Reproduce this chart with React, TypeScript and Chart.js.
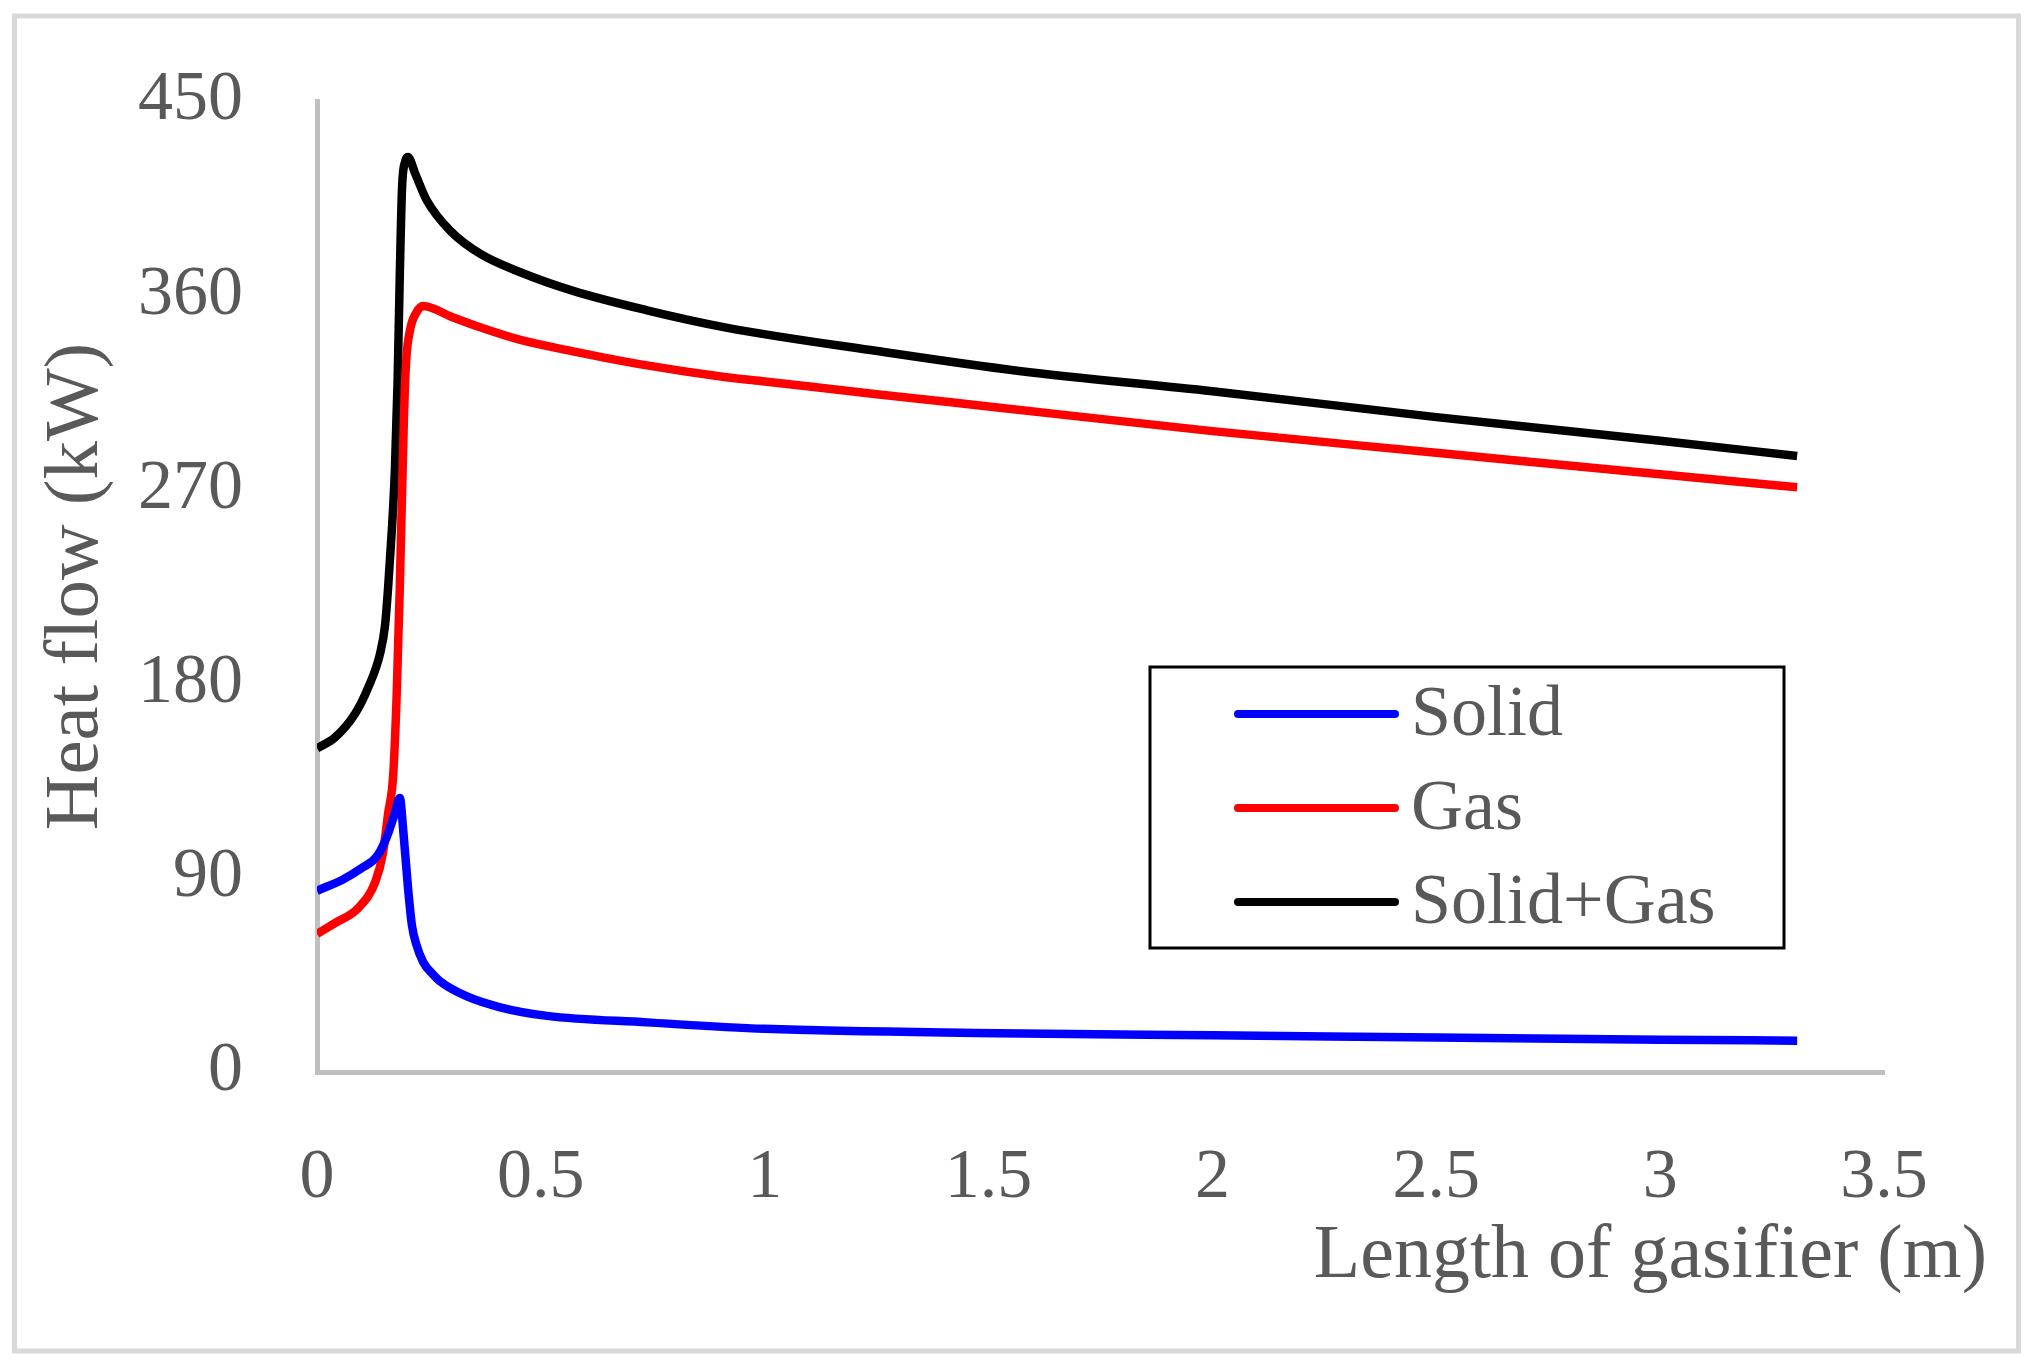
import React, { useEffect, useRef } from 'react';
import { Chart, registerables } from 'chart.js';

Chart.register(...registerables);

const seriesNames = ['Solid', 'Gas', 'Solid+Gas'];
const seriesColors = ['#0000ff', '#ff0000', '#000000'];

// Solid heat flow (kW) along the gasifier (m)
const solidX = [0, 0.056, 0.1, 0.134, 0.156, 0.174, 0.185, 0.193, 0.203, 0.212, 0.222, 0.237, 0.26, 0.275, 0.335, 0.409, 0.514, 0.737, 1.0, 1.52, 2.0, 2.5, 3.0, 3.306];
const solidY = [84, 89, 94.5, 100, 109, 120, 127, 111, 86, 68, 59, 51, 45, 42, 35, 30, 26, 23, 20, 18, 17, 16, 15, 14.5];

// Gas
const gasX = [0, 0.04, 0.092, 0.13, 0.147, 0.159, 0.17, 0.178, 0.185, 0.194, 0.199, 0.208, 0.222, 0.237, 0.3, 0.366, 0.45, 0.572, 0.737, 0.914, 1.0, 1.255, 1.52, 2.0, 2.5, 3.0, 3.306];
const gasY = [64, 69, 76, 88, 101, 120, 137, 175, 225, 302, 329, 344, 352, 355, 350, 345, 339.5, 334, 327.5, 322, 320, 314, 308, 297, 287, 277, 271];

// Solid+Gas
const totalX = [0, 0.04, 0.085, 0.114, 0.141, 0.152, 0.159, 0.168, 0.174, 0.18, 0.185, 0.19, 0.197, 0.203, 0.22, 0.245, 0.297, 0.366, 0.45, 0.572, 0.737, 0.914, 1.255, 1.564, 2.0, 2.5, 3.0, 3.306];
const totalY = [150, 155, 166, 178, 194, 207, 225, 254, 279, 320, 370, 410, 422, 424, 416, 404, 390, 379, 371, 362, 353, 345, 334, 325, 315.5, 303.5, 292.5, 285.5];

const xTicks = [0, 0.5, 1, 1.5, 2, 2.5, 3, 3.5];
const yTicks = [0, 90, 180, 270, 360, 450];

const FONT = "'Liberation Serif', 'Times New Roman', serif";
const TEXT = '#595959';

const toPoints = (xs: number[], ys: number[]) => xs.map((x, i) => ({ x, y: ys[i] }));

// light grey frame around the whole figure
const framePlugin = {
  id: 'frame',
  beforeDraw(chart: any) {
    const { ctx } = chart;
    ctx.save();
    ctx.fillStyle = '#ffffff';
    ctx.fillRect(0, 0, chart.width, chart.height);
    ctx.strokeStyle = '#d9d9d9';
    ctx.lineWidth = 5;
    ctx.strokeRect(14.5, 16, chart.width - 26, chart.height - 31);
    ctx.restore();
  },
};

// x title sits right-aligned past the end of the axis
const xTitlePlugin = {
  id: 'xTitle',
  afterDraw(chart: any) {
    const { ctx } = chart;
    ctx.save();
    ctx.font = `76px ${FONT}`;
    ctx.fillStyle = TEXT;
    ctx.textAlign = 'right';
    ctx.textBaseline = 'middle';
    ctx.fillText('Length of gasifier (m)', chart.width - 43, 1257);
    ctx.restore();
  },
};

// boxed legend inside the plot
const boxLegendPlugin = {
  id: 'boxLegend',
  afterDraw(chart: any) {
    const { ctx } = chart;
    const left = 1150, top = 667, w = 634, h = 281;
    ctx.save();
    ctx.fillStyle = '#ffffff';
    ctx.fillRect(left, top, w, h);
    ctx.strokeStyle = '#000000';
    ctx.lineWidth = 3;
    ctx.strokeRect(left, top, w, h);
    ctx.font = `72px ${FONT}`;
    ctx.textAlign = 'left';
    ctx.textBaseline = 'middle';
    chart.data.datasets.forEach((ds: any, i: number) => {
      const y = top + 47 + i * 94;
      ctx.strokeStyle = ds.borderColor;
      ctx.lineWidth = 8;
      ctx.lineCap = 'round';
      ctx.beginPath();
      ctx.moveTo(left + 88, y);
      ctx.lineTo(left + 245, y);
      ctx.stroke();
      ctx.fillStyle = TEXT;
      ctx.fillText(ds.label, left + 261, y + 2);
    });
    ctx.restore();
  },
};

const App = () => {
  const chartRef = useRef<HTMLCanvasElement | null>(null);

  useEffect(() => {
    if (!chartRef.current) return;
    const ctx = chartRef.current.getContext('2d');
    if (!ctx) return;

    const lines = [toPoints(solidX, solidY), toPoints(gasX, gasY), toPoints(totalX, totalY)];

    const myChart = new Chart(ctx, {
      type: 'line',
      data: {
        datasets: lines.map((pts, i) => ({
          label: seriesNames[i],
          data: pts,
          borderColor: seriesColors[i],
          backgroundColor: seriesColors[i],
          borderWidth: 8.5,
          pointRadius: 0,
          cubicInterpolationMode: 'monotone' as const,
          fill: false,
        })),
      },
      options: {
        responsive: false,
        animation: false,
        devicePixelRatio: 1,
        layout: { padding: { left: 0, top: 101, right: 146, bottom: 0 } },
        plugins: {
          legend: { display: false },
          tooltip: { enabled: false },
        },
        scales: {
          x: {
            type: 'linear',
            min: xTicks[0],
            max: xTicks[xTicks.length - 1],
            afterBuildTicks: (axis: any) => {
              axis.ticks = xTicks.map((v) => ({ value: v }));
            },
            afterFit: (axis: any) => {
              axis.height = 294;
            },
            grid: { display: false, drawTicks: false },
            border: { color: '#bfbfbf', width: 5 },
            ticks: {
              padding: 65,
              color: TEXT,
              font: { family: FONT, size: 70 },
              maxRotation: 0,
              callback: (v: any) => String(v),
            },
          },
          y: {
            type: 'linear',
            min: yTicks[0],
            max: yTicks[yTicks.length - 1],
            afterBuildTicks: (axis: any) => {
              axis.ticks = yTicks.map((v) => ({ value: v }));
            },
            afterFit: (axis: any) => {
              axis.width = 317;
            },
            grid: { display: false, drawTicks: false },
            border: { color: '#bfbfbf', width: 5 },
            ticks: {
              padding: 74,
              color: TEXT,
              // small lineHeight keeps the top label from pushing the plot down
              font: { family: FONT, size: 70, lineHeight: 0.75 },
              callback: (v: any) => String(v),
            },
            title: {
              display: true,
              text: 'Heat flow (kW)',
              color: TEXT,
              font: { family: FONT, size: 77 },
              padding: { top: 31, bottom: 0 },
            },
          },
        },
      },
      plugins: [framePlugin, xTitlePlugin, boxLegendPlugin],
    });

    return () => {
      myChart.destroy();
    };
  }, []);

  return (
    <div style={{ position: 'fixed', left: 0, top: 0, width: 2030, height: 1366, background: '#fff' }}>
      <canvas ref={chartRef} width={2030} height={1366} style={{ display: 'block', width: 2030, height: 1366 }} />
    </div>
  );
};

export default App;
